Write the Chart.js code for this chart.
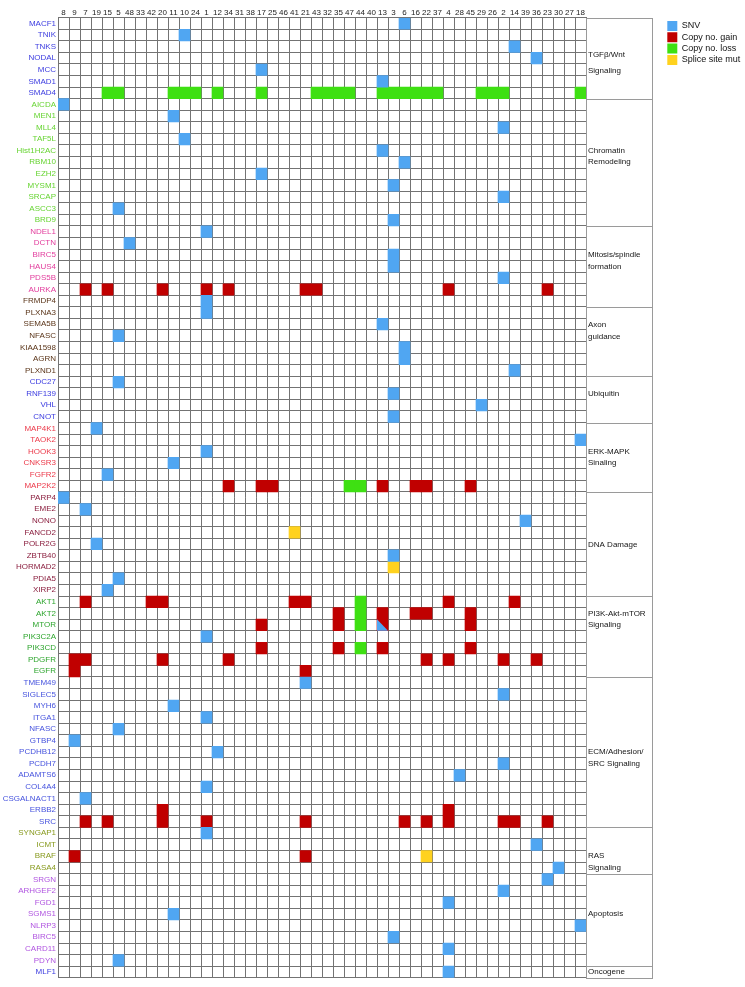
<!DOCTYPE html>
<html><head><meta charset="utf-8">
<script src="https://cdn.jsdelivr.net/npm/chart.js@4.4.0/dist/chart.umd.min.js"></script>
<style>html,body{margin:0;padding:0;background:#fff;}#wrap{width:745px;height:987px;position:relative;}</style>
</head><body><div id="wrap"><canvas id="c"></canvas></div>
<script>
// ---- data ----
const samples = ['8','9','7','19','15','5','48','33','42','20','11','10','24','1','12','34','31','38','17','25','46','41','21','43','32','35','47','44','40','13','3','6','16','22','37','4','28','45','29','26','2','14','39','36','23','30','27','18'];

const genes = ['MACF1','TNIK','TNKS','NODAL','MCC','SMAD1','SMAD4',
  'AICDA','MEN1','MLL4','TAF5L','Hist1H2AC','RBM10','EZH2','MYSM1','SRCAP','ASCC3','BRD9',
  'NDEL1','DCTN','BIRC5','HAUS4','PDS5B','AURKA',
  'FRMDP4','PLXNA3','SEMA5B','NFASC','KIAA1598','AGRN','PLXND1',
  'CDC27','RNF139','VHL','CNOT',
  'MAP4K1','TAOK2','HOOK3','CNKSR3','FGFR2','MAP2K2',
  'PARP4','EME2','NONO','FANCD2','POLR2G','ZBTB40','HORMAD2','PDIA5','XIRP2',
  'AKT1','AKT2','MTOR','PIK3C2A','PIK3CD','PDGFR','EGFR',
  'TMEM49','SIGLEC5','MYH6','ITGA1','NFASC','GTBP4','PCDHB12','PCDH7','ADAMTS6','COL4A4','CSGALNACT1','ERBB2','SRC',
  'SYNGAP1','ICMT','BRAF','RASA4',
  'SRGN','ARHGEF2','FGD1','SGMS1','NLRP3','BIRC5','CARD11','PDYN',
  'MLF1'];

// [row index in genes, sample]
const snv = [[0,'6'],[1,'10'],[2,'14'],[3,'36'],[4,'17'],[5,'13'],
  [7,'8'],[8,'11'],[9,'2'],[10,'10'],[11,'13'],[12,'6'],[13,'17'],[14,'3'],[15,'2'],[16,'5'],[17,'3'],
  [18,'1'],[19,'48'],[20,'3'],[21,'3'],[22,'2'],
  [24,'1'],[25,'1'],[26,'13'],[27,'5'],[28,'6'],[29,'6'],[30,'14'],
  [31,'5'],[32,'3'],[33,'29'],[34,'3'],
  [35,'19'],[36,'18'],[37,'1'],[38,'11'],[39,'15'],
  [41,'8'],[42,'7'],[43,'39'],[45,'19'],[46,'3'],[48,'5'],[49,'15'],
  [53,'1'],
  [57,'21'],[58,'2'],[59,'11'],[60,'1'],[61,'5'],[62,'9'],[63,'12'],[64,'2'],[65,'28'],[66,'1'],[67,'7'],
  [70,'1'],[71,'36'],[73,'30'],
  [74,'23'],[75,'2'],[76,'4'],[77,'11'],[78,'18'],[79,'3'],[80,'4'],[81,'5'],
  [82,'4']];

const gain = [
  [23,'7'],[23,'15'],[23,'20'],[23,'1'],[23,'34'],[23,'21'],[23,'43'],[23,'4'],[23,'23'],
  [40,'34'],[40,'17'],[40,'25'],[40,'13'],[40,'16'],[40,'22'],[40,'45'],
  [50,'7'],[50,'42'],[50,'20'],[50,'41'],[50,'21'],[50,'4'],[50,'14'],
  [51,'35'],[51,'13'],[51,'16'],[51,'22'],[51,'45'],
  [52,'17'],[52,'35'],[52,'13'],[52,'45'],
  [54,'17'],[54,'35'],[54,'13'],[54,'45'],
  [55,'9'],[55,'7'],[55,'20'],[55,'34'],[55,'22'],[55,'4'],[55,'2'],[55,'36'],
  [56,'9'],[56,'21'],
  [68,'20'],[68,'4'],
  [69,'7'],[69,'15'],[69,'20'],[69,'1'],[69,'21'],[69,'6'],[69,'22'],[69,'4'],[69,'2'],[69,'14'],[69,'23'],
  [72,'9'],[72,'21']];

const loss = [
  [6,'15'],[6,'5'],[6,'11'],[6,'10'],[6,'24'],[6,'12'],[6,'17'],[6,'43'],[6,'32'],[6,'35'],[6,'47'],
  [6,'13'],[6,'3'],[6,'6'],[6,'16'],[6,'22'],[6,'37'],[6,'29'],[6,'26'],[6,'2'],[6,'18'],
  [40,'47'],[40,'44'],
  [50,'44'],[51,'44'],[52,'44'],[54,'44']];

const splice = [[44,'41'],[47,'3'],[72,'22']];

// cell holding both a copy-number gain and an SNV (drawn split diagonally)
const splitCells = [[52,'13']];

const seriesNames = ['SNV','Copy no. gain','Copy no. loss','Splice site mut'];

const groupNames = [['TGFβ/Wnt','Signaling'],['Chromatin','Remodeling'],['Mitosis/spindle','formation'],
  ['Axon','guidance'],['Ubiquitin'],['ERK-MAPK','Sinaling'],['DNA Damage'],['PI3K-Akt-mTOR','Signaling'],
  ['ECM/Adhesion/','SRC Signaling'],['RAS','Signaling'],['Apoptosis'],['Oncogene']];
const groupEnds = [7,18,25,31,35,41,50,57,70,74,82,83];

// ---- styling ----
const FONT = "'Liberation Sans', Arial, Helvetica, sans-serif";
const COLORS = {snv:'#50a6f2', gain:'#c00000', loss:'#3ee012', splice:'#ffd21e'};
const groupLabelRows = [[3.2,4.55],[11.5,12.5],[20.5,21.5],[26.55,27.55],[32.5],[37.5,38.5],[45.55],[51.5,52.5],[63.5,64.5],[72.5,73.5],[77.5],[82.5]];
const geneColorRanges = [[0,7,'#3c3ce0'],[7,18,'#66d431'],[18,24,'#e23c9c'],[24,31,'#5a3418'],[31,35,'#3c3ce0'],
  [35,41,'#ec3a4a'],[41,50,'#8a1e3e'],[50,57,'#2ea52e'],[57,70,'#4653de'],[70,74,'#889a1e'],[74,82,'#b055e0'],[82,83,'#3c3ce0']];
const geneColor = i => { const r = geneColorRanges.find(g => i >= g[0] && i < g[1]); return r ? r[2] : '#333'; };
const GRID = '#737373';

const toCells = list => list.map(([r, s]) => ({x: s, y: [r, r + 1]}));

const splitPlugin = {
  id: 'split',
  afterDatasetsDraw(chart) {
    const {ctx, scales: {x, y}} = chart;
    const w = x.width / samples.length;
    ctx.save();
    ctx.fillStyle = COLORS.snv;
    splitCells.forEach(([r, s]) => {
      const cx = x.getPixelForValue(samples.indexOf(s));
      const l = cx - w / 2, rt = cx + w / 2;
      const t = y.getPixelForValue(r), b = y.getPixelForValue(r + 1);
      ctx.beginPath(); ctx.moveTo(l, t); ctx.lineTo(l, b); ctx.lineTo(rt, b); ctx.closePath(); ctx.fill();
    });
    ctx.restore();
  }
};

const panelPlugin = {
  id: 'panel',
  afterDraw(chart) {
    const {ctx, chartArea: a, scales: {y}} = chart;
    const left = Math.round(a.right), right = left + 66;
    ctx.save();
    ctx.strokeStyle = '#9a9a9a'; ctx.lineWidth = 1;
    ctx.strokeRect(left + 0.5, Math.round(a.top) + 0.5, right - left, Math.round(a.bottom - a.top));
    groupEnds.slice(0, -1).forEach(e => {
      const py = Math.round(y.getPixelForValue(e)) + 0.5;
      ctx.beginPath(); ctx.moveTo(left, py); ctx.lineTo(right, py); ctx.stroke();
    });
    ctx.fillStyle = '#151515';
    ctx.font = '8px ' + FONT;
    ctx.textBaseline = 'middle'; ctx.textAlign = 'left';
    groupNames.forEach((lines, gi) => lines.forEach((t, li) => {
      ctx.fillText(t, left + 2, y.getPixelForValue(groupLabelRows[gi][li]));
    }));
    ctx.restore();
  }
};

new Chart(document.getElementById('c'), {
  type: 'bar',
  data: {
    labels: samples,
    datasets: [
      {label: seriesNames[0], data: toCells(snv), backgroundColor: COLORS.snv},
      {label: seriesNames[1], data: toCells(gain), backgroundColor: COLORS.gain},
      {label: seriesNames[2], data: toCells(loss), backgroundColor: COLORS.loss},
      {label: seriesNames[3], data: toCells(splice), backgroundColor: COLORS.splice}
    ].map(d => Object.assign(d, {borderWidth: 0, borderSkipped: false, barPercentage: 1, categoryPercentage: 1, grouped: false}))
  },
  options: {
    responsive: true, maintainAspectRatio: false, devicePixelRatio: 1, animation: false,
    layout: {padding: {left: 0, top: 0, right: 3, bottom: 9.3}},
    plugins: {
      tooltip: {enabled: false},
      legend: {
        position: 'right', align: 'start', maxWidth: 76,
        title: {display: true, text: ' ', padding: 0, font: {size: 16.4}},
        labels: {boxWidth: 10, boxHeight: 10, padding: 1.3, color: '#111', font: {size: 9, family: FONT}}
      }
    },
    scales: {
      x: {
        type: 'category', position: 'top', offset: true,
        grid: {offset: true, color: GRID, drawTicks: false},
        border: {color: GRID},
        ticks: {autoSkip: false, maxRotation: 0, padding: 0, color: '#222', font: {size: 8, family: FONT}},
        afterFit: s => { s.height = 17.7; }
      },
      y: {
        type: 'linear', position: 'left', reverse: true, min: 0, max: genes.length,
        grid: {color: GRID, drawTicks: false},
        border: {color: GRID},
        afterBuildTicks: s => { s.ticks = Array.from({length: genes.length + 1}, (_, i) => ({value: i})); },
        ticks: {
          autoSkip: false, padding: 2, labelOffset: 5.78,
          callback: (v, i) => genes[i] !== undefined ? genes[i] : '',
          color: c => geneColor(c.index),
          font: {size: 8, family: FONT}
        },
        afterFit: s => { s.width = 58; }
      },
      panel: {
        type: 'linear', position: 'right', display: true,
        grid: {display: false}, border: {display: false}, ticks: {display: false},
        afterFit: s => { s.width = 80; }
      }
    }
  },
  plugins: [splitPlugin, panelPlugin]
});
</script></body></html>
